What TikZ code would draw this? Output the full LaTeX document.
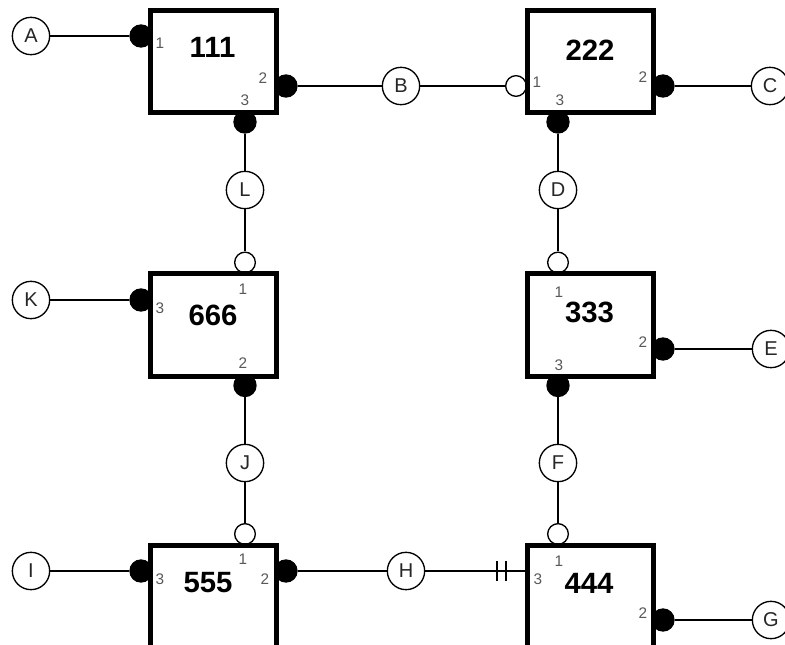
\documentclass[tikz,border=0pt]{standalone}
\usepackage{fontspec}
\setmainfont{Liberation Sans}
\usetikzlibrary{calc}
\begin{document}
\begin{tikzpicture}[x=0.75pt,y=-0.75pt,
  unitbox/.style={draw, line width=3.75pt, fill=white, minimum width=94.5pt, minimum height=76.5pt, inner sep=0pt},
  term/.style={circle, draw, line width=1pt, fill=white, minimum size=28pt, inner sep=0pt, text=black!85, font=\fontsize{15}{15}\selectfont},
  pfill/.style={circle, fill=black, minimum size=17.5pt, inner sep=0pt},
  popen/.style={circle, draw, fill=white, line width=1pt, minimum size=15.5pt, inner sep=0pt},
  plabel/.style={text=black!65, font=\fontsize{11.5}{11.5}\selectfont, inner sep=0pt},
  title/.style={font=\bfseries\fontsize{22}{22}\selectfont, inner sep=0pt},
  wire/.style={line width=1.1pt},
  tick/.style={line width=1.1pt}]
\useasboundingbox (0,0) rectangle (785,645);
\clip (0,0) rectangle (785,645);
\fill[white] (0,0) rectangle (785,645);

% terminals
\node[term] (A) at (31,36) {A};
\node[term] (B) at (401,86) {B};
\node[term] (C) at (770,86) {C};
\node[term] (L) at (245,190) {L};
\node[term] (D) at (558,190) {D};
\node[term] (K) at (31,300) {K};
\node[term] (E) at (771,349) {E};
\node[term] (J) at (245,463) {J};
\node[term] (F) at (558,463) {F};
\node[term] (I) at (31,571) {I};
\node[term] (H) at (406,571) {H};
\node[term] (G) at (771,620) {G};

% ports
\node[pfill] (p111a) at (141,36) {};
\node[pfill] (p111b) at (286,86) {};
\node[pfill] (p111c) at (245,122) {};
\node[popen] (p222a) at (516,86) {};
\node[pfill] (p222b) at (663,86) {};
\node[pfill] (p222c) at (558,122) {};
\node[popen] (p666a) at (245,262.5) {};
\node[pfill] (p666c) at (141,300) {};
\node[pfill] (p666b) at (245,385.5) {};
\node[popen] (p333a) at (558,262.5) {};
\node[pfill] (p333b) at (663,349) {};
\node[pfill] (p333c) at (558,385.5) {};
\node[popen] (p555a) at (245,534) {};
\node[pfill] (p555c) at (141,571) {};
\node[pfill] (p555b) at (286,571) {};
\node[popen] (p444a) at (558,534) {};
\coordinate (p444c) at (525,571);
\node[pfill] (p444b) at (663,620) {};

% boxes
\node[unitbox] (b111) at (213.5,61.5) {};
\node[unitbox] (b222) at (590.5,61.5) {};
\node[unitbox] (b666) at (213.5,325) {};
\node[unitbox] (b333) at (590.5,325) {};
\node[unitbox] (b555) at (213.5,596.5) {};
\node[unitbox] (b444) at (590.5,596.5) {};

% wires
\draw[wire] (A) -- (p111a);
\draw[wire] (p111b) -- (B) -- (p222a);
\draw[wire] (p222b) -- (C);
\draw[wire] (p111c) -- (L) -- (p666a);
\draw[wire] (p222c) -- (D) -- (p333a);
\draw[wire] (K) -- (p666c);
\draw[wire] (p666b) -- (J) -- (p555a);
\draw[wire] (p333b) -- (E);
\draw[wire] (p333c) -- (F) -- (p444a);
\draw[wire] (I) -- (p555c);
\draw[wire] (p555b) -- (H) -- (p444c);
\draw[wire] (p444b) -- (G);
\draw[tick] ($(p444c)+(-28,-10)$) -- ($(p444c)+(-28,10)$);
\draw[tick] ($(p444c)+(-19,-10)$) -- ($(p444c)+(-19,10)$);

% titles
\node[title] (t111) at (212.5,47.5) {111};
\node[title] (t222) at (590,50) {222};
\node[title] (t666) at (213,315) {666};
\node[title] (t333) at (589.5,312.5) {333};
\node[title] (t555) at (208,583) {555};
\node[title] (t444) at (589,583) {444};

% port labels
\node[plabel] (l111a) at (160,43) {1};
\node[plabel] (l111b) at (263,78) {2};
\node[plabel] (l111c) at (245,100) {3};
\node[plabel] (l222a) at (537,82) {1};
\node[plabel] (l222b) at (643,77) {2};
\node[plabel] (l222c) at (560,100) {3};
\node[plabel] (l666a) at (243,289) {1};
\node[plabel] (l666c) at (160,308) {3};
\node[plabel] (l666b) at (243,363) {2};
\node[plabel] (l333a) at (559,292) {1};
\node[plabel] (l333b) at (643,342) {2};
\node[plabel] (l333c) at (559,365) {3};
\node[plabel] (l555a) at (243,559) {1};
\node[plabel] (l555c) at (160,579) {3};
\node[plabel] (l555b) at (265,579) {2};
\node[plabel] (l444a) at (559,561) {1};
\node[plabel] (l444c) at (538,579) {3};
\node[plabel] (l444b) at (643,613) {2};
\end{tikzpicture}
\end{document}
